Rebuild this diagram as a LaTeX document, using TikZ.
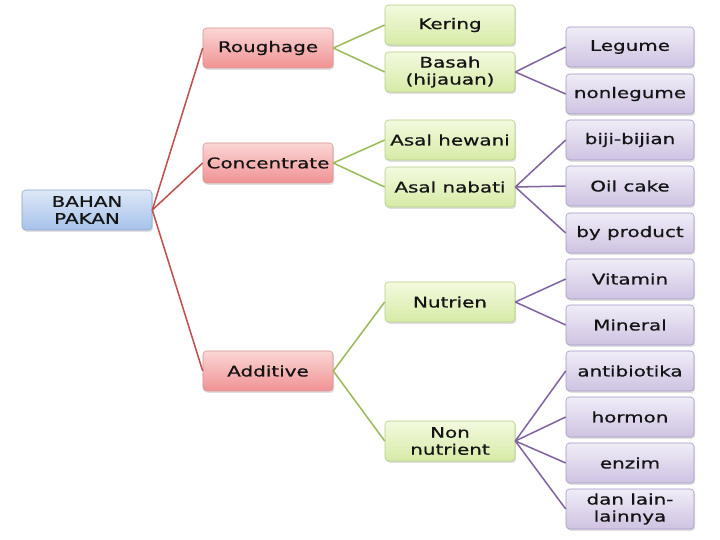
\documentclass[tikz,border=0pt]{standalone}
\usepackage{fontspec}
\setmainfont{DejaVu Sans}[FakeStretch=1.36, FakeBold=0.6]
\usetikzlibrary{shadows}
\definecolor{rootTop}{HTML}{DDE8F7}
\definecolor{rootBot}{HTML}{A6C1EA}
\definecolor{rootLine}{HTML}{8DA8CF}
\definecolor{redTop}{HTML}{FBD6D6}
\definecolor{redBot}{HTML}{F09292}
\definecolor{redLine}{HTML}{D99594}
\definecolor{greenTop}{HTML}{F3FADF}
\definecolor{greenBot}{HTML}{D6EBA6}
\definecolor{greenLine}{HTML}{B5CD86}
\definecolor{purpleTop}{HTML}{F0ECF7}
\definecolor{purpleBot}{HTML}{CEC3E2}
\definecolor{purpleLine}{HTML}{A698C6}
\definecolor{redWire}{HTML}{C0504D}
\definecolor{greenWire}{HTML}{9BBB59}
\definecolor{purpleWire}{HTML}{8064A2}
\definecolor{ink}{HTML}{141414}

\begin{document}
\begin{tikzpicture}[x=0.03cm, y=-0.03cm, font=\fontsize{12.5}{14.5}\selectfont,
	box/.style={rectangle, rounded corners=3pt, minimum width=3.9cm, minimum height=1.2cm, inner sep=1pt, align=center, text=ink, line width=0.5pt, drop shadow={shadow xshift=1pt, shadow yshift=-1.5pt, opacity=0.25}},
	rootbox/.style={box, draw=rootLine, top color=rootTop, bottom color=rootBot},
	redbox/.style={box, draw=redLine, top color=redTop, bottom color=redBot},
	greenbox/.style={box, draw=greenLine, top color=greenTop, bottom color=greenBot},
	purplebox/.style={box, draw=purpleLine, top color=purpleTop, bottom color=purpleBot, minimum width=3.84cm},
	redwire/.style={draw=redWire, line width=1.3pt},
	greenwire/.style={draw=greenWire, line width=1.3pt},
	purplewire/.style={draw=purpleWire, line width=1.3pt}]
	\useasboundingbox (0, 0) rectangle (720, 540);
	% Nodes:
	\node[rootbox] (bahan) at (87, 210){BAHAN\\PAKAN};
	\node[redbox] (rough) at (268, 48){Roughage};
	\node[redbox] (conc) at (268, 163){Concentrate};
	\node[redbox] (addi) at (268, 371){Additive};
	\node[greenbox] (kering) at (450, 25){Kering};
	\node[greenbox] (basah) at (450, 72){Basah\\(hijauan)};
	\node[greenbox] (hewani) at (450, 140){Asal hewani};
	\node[greenbox] (nabati) at (450, 187){Asal nabati};
	\node[greenbox] (nutrien) at (450, 302){Nutrien};
	\node[greenbox] (nonnut) at (450, 441){Non\\nutrient};
	\node[purplebox] (legume) at (630, 47){Legume};
	\node[purplebox] (nonleg) at (630, 94){nonlegume};
	\node[purplebox] (biji) at (630, 140){biji-bijian};
	\node[purplebox] (oil) at (630, 186){Oil cake};
	\node[purplebox] (byprod) at (630, 233){by product};
	\node[purplebox] (vitamin) at (630, 279){Vitamin};
	\node[purplebox] (mineral) at (630, 325){Mineral};
	\node[purplebox] (antib) at (630, 371){antibiotika};
	\node[purplebox] (hormon) at (630, 417){hormon};
	\node[purplebox] (enzim) at (630, 463){enzim};
	\node[purplebox] (lain) at (630, 509){dan lain-\\lainnya};
	% Wires:
	\draw[redwire] (bahan.east) -- (rough.west);
	\draw[redwire] (bahan.east) -- (conc.west);
	\draw[redwire] (bahan.east) -- (addi.west);
	\draw[greenwire] (rough.east) -- (kering.west);
	\draw[greenwire] (rough.east) -- (basah.west);
	\draw[greenwire] (conc.east) -- (hewani.west);
	\draw[greenwire] (conc.east) -- (nabati.west);
	\draw[greenwire] (addi.east) -- (nutrien.west);
	\draw[greenwire] (addi.east) -- (nonnut.west);
	\draw[purplewire] (basah.east) -- (legume.west);
	\draw[purplewire] (basah.east) -- (nonleg.west);
	\draw[purplewire] (nabati.east) -- (biji.west);
	\draw[purplewire] (nabati.east) -- (oil.west);
	\draw[purplewire] (nabati.east) -- (byprod.west);
	\draw[purplewire] (nutrien.east) -- (vitamin.west);
	\draw[purplewire] (nutrien.east) -- (mineral.west);
	\draw[purplewire] (nonnut.east) -- (antib.west);
	\draw[purplewire] (nonnut.east) -- (hormon.west);
	\draw[purplewire] (nonnut.east) -- (enzim.west);
	\draw[purplewire] (nonnut.east) -- (lain.west);
\end{tikzpicture}
\end{document}
